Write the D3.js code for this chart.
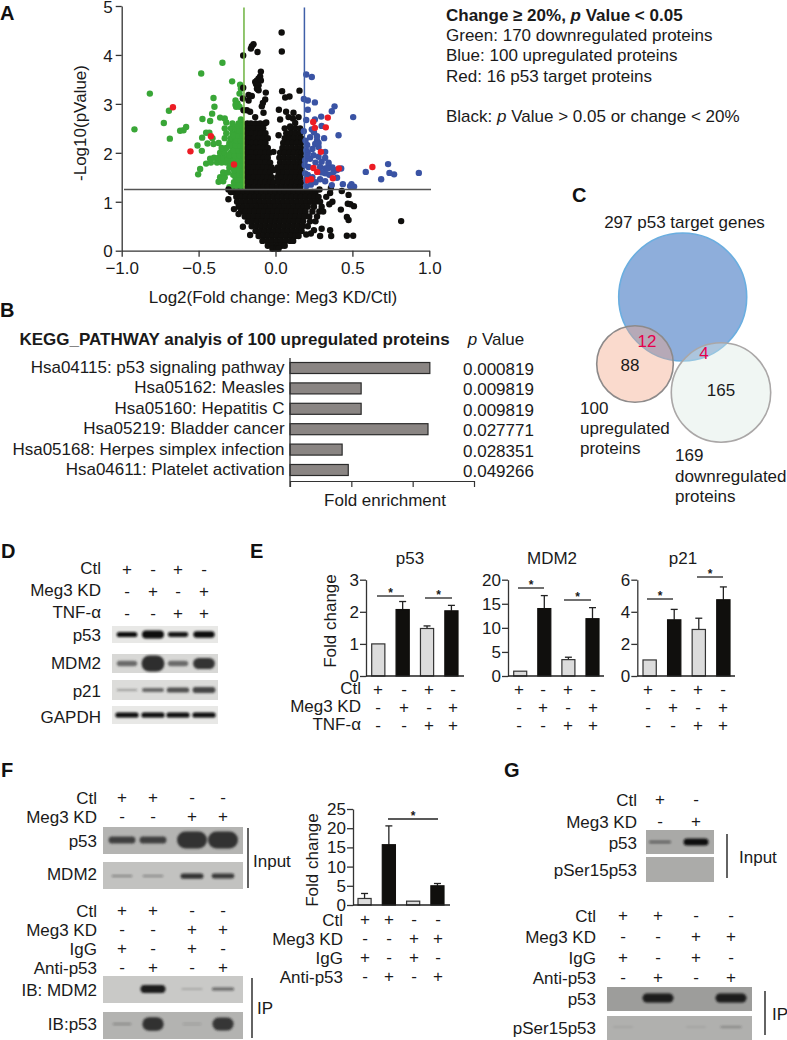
<!DOCTYPE html>
<html><head><meta charset="utf-8">
<script src="https://cdn.jsdelivr.net/npm/d3@7"></script>
<style>html,body{margin:0;padding:0;background:#fff}svg{display:block}text{font-family:"Liberation Sans",Arial,sans-serif;fill:#1a1a1a}</style>
</head><body><script>
// ---------- A: volcano ----------
const redPoints=[[-.667,2.93],[-.42,2.34],[-.553,2.03],[-.27,1.76],[.245,2.63],[.34,2.72],[.256,2.51],[.327,2.52],[.295,2.02],[.247,1.69],[.271,1.61],[.412,1.68],[.63,1.71],[.373,1.48],[.232,1.46],[.204,1.44]];
const greenPoints=[[-.817,3.21],[-.917,2.48],[-.726,2.61],[-.693,2.86],[-.687,2.29],[-.62,2.45],[-.598,2.46],[-.581,2.53],[-.483,3.62],[-.345,3.84],[-.282,3.46],[-.23,3.39],[-.225,3.31],[-.234,3.21],[-.403,3.12],[-.397,2.94],[-.412,2.8],[-.475,2.69],[-.425,2.65],[-.36,2.72],[-.33,2.7],[-.32,2.62],[-.26,3.07],[-.247,3.01],[-.256,2.94],[-.234,2.94],[-.26,2.98],[-.507,2.15],[-.479,2.04],[-.477,2.31],[-.451,2.41],[-.43,2.41],[-.442,2.19],[-.403,2.18],[-.49,1.67],[-.503,1.56],[-.451,1.78],[-.425,1.88],
[-.3,1.3],[-.28,1.3],[-.25,1.3],[-.22,1.3],[-.37,1.41],[-.34,1.42],[-.27,1.4],[-.24,1.4],[-.215,1.4],[-.36,1.5],[-.33,1.5],[-.26,1.5],[-.23,1.5],[-.21,1.5],[-.34,1.6],[-.31,1.6],[-.25,1.6],[-.22,1.6],[-.3,1.7],[-.24,1.7],[-.215,1.7],[-.42,1.8],[-.38,1.8],[-.35,1.8],[-.32,1.8],[-.29,1.8],[-.26,1.8],[-.23,1.8],[-.21,1.8],[-.4,1.9],[-.37,1.9],[-.34,1.9],[-.31,1.9],[-.28,1.9],[-.25,1.9],[-.22,1.9],[-.36,2],[-.33,2],[-.29,2],[-.26,2],[-.23,2],[-.21,2],[-.35,2.1],[-.32,2.1],[-.28,2.1],[-.25,2.1],[-.22,2.1],[-.37,2.2],[-.3,2.2],[-.27,2.2],[-.24,2.2],[-.215,2.2],[-.41,2.3],[-.33,2.3],[-.29,2.3],[-.26,2.3],[-.23,2.3],[-.21,2.3],[-.32,2.4],[-.28,2.4],[-.25,2.4],[-.22,2.4],[-.33,2.5],[-.29,2.5],[-.26,2.5],[-.23,2.5],[-.21,2.5],[-.28,2.6],[-.24,2.6],[-.22,2.6],[-.225,2.68],
[-.235,1.35],[-.215,1.45],[-.245,1.45],[-.275,1.55],[-.235,1.55],[-.215,1.55],[-.27,1.65],[-.235,1.65],[-.215,1.62],[-.26,1.75],[-.23,1.75],[-.31,1.85],[-.27,1.85],[-.24,1.85],[-.215,1.85],[-.3,1.95],[-.265,1.95],[-.235,1.95],[-.21,1.95],[-.27,2.05],[-.24,2.05],[-.215,2.05],[-.3,2.15],[-.26,2.15],[-.23,2.15],[-.21,2.15],[-.25,2.25],[-.225,2.25],[-.27,2.35],[-.24,2.35],[-.215,2.35],[-.235,2.45],[-.21,2.45],[-.245,2.55],[-.215,2.55]];
const bluePoints=[[.2,3.6],[.236,3.55],[.184,3.1],[.21,3.07],[.256,3.03],[.21,2.88],[.384,2.95],[.366,2.85],[.505,2.73],[.297,2.74],[.2,2.67],[.256,2.68],[.236,2.48],[.184,2.44],[.225,2.32],[.316,2.3],[.41,2.36],[.27,2.26],[.258,2.18],[.206,2.16],[.28,2.12],[.2,2.05],[.323,2.02],[.247,1.95],[.28,1.92],[.323,1.9],[.345,1.8],[.345,1.75],[.29,1.71],[.323,1.68],[.427,1.68],[.377,1.61],[.4,1.65],[.732,1.77],[.587,1.61],[.741,1.59],[.771,1.56],[.687,1.46],[.932,1.59],[.438,1.36],[.494,1.36],[.485,1.32],[.511,1.31],[.366,1.34],[.4,1.49],[.323,1.58],[.29,1.46],[.323,1.42],[.193,1.58],[.215,1.71],[.193,1.85],[.225,1.88],[.2,1.45],[.21,1.55],[.24,1.5],[.2,1.32],[.23,1.35],[.26,1.4],[.3,1.6],[.35,1.55],[.37,1.7],[.26,1.8],[.21,2],[.24,2.08],[.195,2.25],[.27,2.34],[.25,2.42],[.3,2.55],[.28,2.2],[.205,1.95],[.19,1.75],[.34,1.68],[.3,1.82]];
const blackRows=[
[2.6,[-.183,-.16,-.13,-.1,-.07]],
[2.5,[-.183,-.17,-.14,-.11,-.08,.06,.1,.13,.16]],
[2.4,[-.183,-.155,-.125,-.095,-.065,.07,.1,.13,.16]],
[2.3,[-.183,-.17,-.14,-.11,-.08,-.05,.06,.09,.12,.15,.167]],
[2.2,[-.183,-.155,-.125,-.095,-.065,.05,.08,.11,.14,.167]],
[2.1,[-.183,-.17,-.14,-.11,-.08,-.05,.045,.075,.105,.135,.165]],
[2,[-.183,-.155,-.125,-.095,-.065,-.04,.03,.06,.09,.12,.15,.167]],
[1.9,[-.183,-.17,-.14,-.11,-.08,-.05,.025,.055,.085,.115,.145,.167]],
[1.8,[-.183,-.155,-.125,-.095,-.065,-.035,.03,.06,.09,.12,.15,.167]],
[1.7,[-.183,-.17,-.14,-.11,-.08,-.05,-.025,.015,.045,.075,.105,.135,.165]],
[1.6,[-.183,-.155,-.125,-.095,-.065,-.035,.02,.05,.08,.11,.14,.167]],
[1.5,[-.183,-.17,-.14,-.11,-.08,-.05,-.025,.012,.04,.07,.1,.13,.16]],
[1.4,[-.183,-.155,-.125,-.095,-.065,-.035,-.012,.02,.05,.08,.11,.14,.167]],
[1.3,[-.183,-.17,-.14,-.11,-.08,-.05,-.02,.012,.04,.07,.1,.13,.16]],
[1.2,[-.27,-.24,-.21,-.18,-.15,-.12,-.09,-.06,-.03,0,.03,.06,.09,.12,.15,.18,.21,.24,.26]],
[1.1,[-.255,-.225,-.195,-.165,-.135,-.105,-.075,-.045,-.015,.015,.045,.075,.105,.135,.165,.195,.225,.255,.28]],
[1,[-.25,-.22,-.19,-.16,-.13,-.1,-.07,-.04,-.01,.02,.05,.08,.11,.14,.17,.2,.23,.26,.29]],
[.9,[-.24,-.21,-.18,-.15,-.12,-.09,-.06,-.03,0,.03,.06,.09,.12,.15,.18,.21,.25,.3]],
[.8,[-.225,-.195,-.165,-.135,-.105,-.075,-.045,-.015,.015,.045,.075,.105,.135,.165,.195,.24,.285]],
[.7,[-.2,-.17,-.14,-.11,-.08,-.05,-.02,.01,.04,.07,.1,.13,.16,.19,.22,.27]],
[.6,[-.18,-.15,-.12,-.09,-.06,-.03,0,.03,.06,.09,.12,.15,.18,.225,.26]],
[.5,[-.155,-.125,-.095,-.065,-.035,-.005,.025,.055,.085,.115,.145,.175,.21]],
[.4,[-.13,-.1,-.07,-.04,-.01,.02,.05,.08,.11,.14,.17]],
[.3,[-.11,-.08,-.05,-.02,.01,.04,.07,.1,.13,.15]],
[.2,[-.085,-.055,-.025,.005,.035,.065,.095,.115]],
[.1,[-.05,-.02,.01,.04,.06]],
[.04,[-.02,.005,.02]]];
const blackOutliers=[[.04,4.46],[.041,4.07],[-.21,3.99],[-.154,4.18],[-.143,4.22],[-.16,4.13],[-.117,4.06],[-.095,3.66],[-.1,3.56],[-.11,3.52],[-.121,3.48],[-.132,3.45],[-.095,3.48],[-.126,3.4],[-.11,3.38],[-.121,3.31],[-.11,3.28],[-.063,3.23],[.043,3.26],[.156,3.27],[.063,3.13],[.091,3.15],[-.067,3.09],[-.082,3.02],[-.089,2.95],[-.21,3.33],[-.212,3.11],[-.208,2.87],[-.175,3.07],[-.154,3.16],[-.175,3.18],[-.132,2.73],[-.078,2.82],[-.186,2.87],[-.165,2.84],[.022,2.88],[.069,2.84],[.117,2.82],[.085,2.73],[.03,2.68],[.113,2.7],[.15,2.73],[.128,2.61],[.095,2.54],[.02,2.36],[-.013,2.02],[-.013,1.65],[-.06,2.62],
[.286,1.25],[.36,1.28],[.355,1.18],[.431,1.22],[.475,1.14],[.47,.96],[.487,.95],[.51,.91],[.425,.84],[.464,.69],[.475,.626],[.464,.306],[.505,.306],[.817,.605],[.355,.42],[.362,.3],[.29,.3],[.3,.45],[.25,.42],[.23,.35],[.2,.33],[.31,.8],[.35,.95],[.37,1],[.33,1.1],[-.306,1.05],[-.212,.49],[-.165,.32],[-.306,1.25],[-.27,.85],[-.24,.75],[-.29,1.2]];
const volcanoXTicks=[-1,-.5,0,.5,1], volcanoYTicks=[0,1,2,3,4,5];
const thresholdP=1.25, thresholdDown=-.205, thresholdUp=.188;
const legendLines=["Green: 170 downregulated proteins","Blue: 100 upregulated proteins","Red: 16 p53 target proteins"];
// ---------- B: KEGG ----------
const keggTerms=["Hsa04115: p53 signaling pathway","Hsa05162: Measles","Hsa05160: Hepatitis C","Hsa05219: Bladder cancer","Hsa05168: Herpes simplex infection","Hsa04611: Platelet activation"];
const keggFold=[2.28,1.16,1.16,2.25,.85,.95];
const keggP=["0.000819","0.009819","0.009819","0.027771","0.028351","0.049266"];
// ---------- C: Venn ----------
const vennSets=["297 p53 target genes","100","upregulated","proteins","169","downregulated","proteins"];
const vennCounts=["12","4","88","165"];
// ---------- D/E/F/G ----------
const laneLabels4=["Ctl","Meg3 KD","TNF-α"];
const signsCtl=["+","-","+","-"], signsKD=["-","+","-","+"], signsTNF=["-","-","+","+"];
const signsCtlF=["+","+","-","-"], signsKDF=["-","-","+","+"], signsIgG=["+","-","+","-"], signsAnti=["-","+","-","+"];
const p53Fold=[1,2.07,1.48,2.03], p53Err=[1,2.32,1.56,2.2];
const mdm2Fold=[1,14,3.4,11.9], mdm2Err=[1,16.7,3.9,14.2];
const p21Fold=[1,3.5,2.9,4.75], p21Err=[1,4.15,3.6,5.55];
const ipFold=[1.7,15.7,1,5], ipErr=[3,20.6,1,5.6];
const blotD={p53:[.65,1,.6,.8],MDM2:[.35,1,.35,.7],p21:[.18,.5,.65,.75],GAPDH:[.85,.85,.85,.85]};
const blotFInput={p53:[.42,.42,1,1],MDM2:[.2,.18,.75,.7]};
const blotFIP={MDM2:[0,1,.05,.38],p53:[.14,.85,.05,.8]};
const blotGInput={p53:[.35,1],pSer:[0,0]};
const blotGIP={p53:[0,1,0,1],pSer:[.02,0,.02,.3]};

const W=787,H=1040,FS=17;
const svg=d3.select("body").append("svg").attr("width",W).attr("height",H).attr("viewBox",`0 0 ${W} ${H}`);
const defs=svg.append("defs");
defs.append("filter").attr("id","blur").attr("x","-30%").attr("y","-80%").attr("width","160%").attr("height","260%").append("feGaussianBlur").attr("stdDeviation",.9);
function txt(x,y,s,o={}){const t=svg.append("text").attr("x",x).attr("y",y).attr("dy",".35em").attr("text-anchor",o.a||"start").attr("font-size",o.s||FS).attr("font-weight",o.w||"normal").text(s);if(o.c)t.style("fill",o.c);if(o.rot)t.attr("transform",`rotate(${o.rot} ${x} ${y})`);return t;}
function panel(x,y,s){txt(x,y,s,{s:20,w:"bold",c:"#111"});}
[[0,13,"A"],[0,310,"B"],[572,195,"C"],[1,551,"D"],[250,551,"E"],[1,770,"F"],[504,770,"G"]].forEach(d=>panel(...d));

// --- A
const vx=d3.scaleLinear().domain([-1,1]).range([121.7,429.3]);
const vy=d3.scaleLinear().domain([0,5]).range([250.7,6]);
const gV=svg.append("g");
const R=3.2;
function dots(data,col){gV.append("g").selectAll("circle").data(data).join("circle").attr("cx",d=>vx(d[0])).attr("cy",d=>vy(d[1])).attr("r",R).attr("fill",col);}
dots(greenPoints,"#39a637");
dots(blackRows.flatMap(([y,xs])=>xs.map(x=>[x,y])).concat(blackOutliers),"#100f0d");
dots(bluePoints,"#3a53a4");
dots(redPoints,"#ec1c24");
function axisStyle(g,fs){g.selectAll("path,line").attr("stroke","#333").attr("stroke-width",1.3);g.selectAll("text").attr("font-size",fs).style("fill","#1a1a1a");}
const xa=svg.append("g").attr("transform",`translate(0,${vy(0)})`).call(d3.axisBottom(vx).tickValues(volcanoXTicks).tickFormat(d3.format(".1f")).tickSize(6).tickSizeOuter(0));
axisStyle(xa,FS);xa.selectAll("text").attr("dy",".85em");
const ya=svg.append("g").attr("transform",`translate(${vx(-1)},0)`).call(d3.axisLeft(vy).tickValues(volcanoYTicks).tickFormat(d3.format("d")).tickSize(6).tickSizeOuter(0));
axisStyle(ya,FS);ya.selectAll("text").attr("dy",".37em");
svg.append("line").attr("x1",vx(thresholdDown)).attr("x2",vx(thresholdDown)).attr("y1",vy(4.97)).attr("y2",vy(thresholdP)).attr("stroke","#6db33f").attr("stroke-width",1.5);
svg.append("line").attr("x1",vx(thresholdUp)).attr("x2",vx(thresholdUp)).attr("y1",vy(4.97)).attr("y2",vy(thresholdP)).attr("stroke","#3f5fa8").attr("stroke-width",1.5);
svg.append("line").attr("x1",vx(-.985)).attr("x2",431).attr("y1",vy(thresholdP)).attr("y2",vy(thresholdP)).attr("stroke","#555").attr("stroke-width",1.4);
txt(80,123,"-Log10(pValue)",{a:"middle",rot:-90});
txt(273,297,"Log2(Fold change: Meg3 KD/Ctl)",{a:"middle"});
const tt=txt(446,15,"Change ≥ 20%, ",{w:"bold"});
tt.append("tspan").attr("font-style","italic").text("p");tt.append("tspan").text(" Value < 0.05");
legendLines.forEach((l,i)=>txt(446,35+i*20.5,l));
const bl=txt(446,116,"Black: ");bl.append("tspan").attr("font-style","italic").text("p");bl.append("tspan").text(" Value > 0.05 or change < 20%");

// --- B
txt(19.5,339,"KEGG_PATHWAY analyis of 100 upregulated proteins",{w:"bold",s:17});
const pv=txt(496,339,"",{a:"middle"});pv.append("tspan").attr("font-style","italic").text("p");pv.append("tspan").text(" Value");
const kx=d3.scaleLinear().domain([0,3]).range([290,474]);
const ky=d3.scaleBand().domain(keggTerms).range([362.5,475.5]).paddingInner(.46).paddingOuter(0);
svg.append("g").selectAll("rect").data(keggTerms).join("rect").attr("x",kx(0)).attr("y",d=>ky(d)).attr("width",(d,i)=>kx(keggFold[i])-kx(0)).attr("height",ky.bandwidth()).attr("fill","#8a8583").attr("stroke","#2b2b2b").attr("stroke-width",1.2);
keggTerms.forEach((t,i)=>{txt(284.6,ky(t)+ky.bandwidth()/2-1,t,{a:"end"});txt(463,ky(t)+ky.bandwidth()/2+1,keggP[i]);});
const kax=svg.append("g").attr("transform","translate(0,481)").call(d3.axisBottom(kx).ticks(3).tickFormat("").tickSize(6).tickSizeOuter(0));
kax.selectAll("path,line").attr("stroke","#333").attr("stroke-width",1.2);
svg.append("line").attr("x1",290).attr("x2",290).attr("y1",358).attr("y2",487).attr("stroke","#333").attr("stroke-width",1.3);
txt(385,500,"Fold enrichment",{a:"middle"});

// --- C
const gC=svg.append("g");
gC.append("circle").attr("cx",682.7).attr("cy",297).attr("r",64).attr("fill","#8eaedb").attr("stroke","#6aaee0").attr("stroke-width",1.6);
gC.append("circle").attr("cx",635).attr("cy",364).attr("r",38.3).attr("fill","rgba(243,163,130,.4)").attr("stroke","#8d8a8a").attr("stroke-width",1.6);
gC.append("circle").attr("cx",721).attr("cy",392.5).attr("r",49.7).attr("fill","rgba(217,232,226,.4)").attr("stroke","#aaa7a7").attr("stroke-width",1.6);
txt(684.5,222,vennSets[0],{a:"middle"});
txt(647,341,vennCounts[0],{a:"middle",c:"#e6004c"});
txt(704,353,vennCounts[1],{a:"middle",c:"#e6004c"});
txt(630,365,vennCounts[2],{a:"middle"});
txt(721,390,vennCounts[3],{a:"middle"});
[408,428.5,448].forEach((y,i)=>txt(580,y,vennSets[1+i]));
[455,476,496].forEach((y,i)=>txt(675,y,vennSets[4+i]));

// --- Blots
function blot(x0,x1,y0,y1,bg,laneXs,vals,o){
  svg.append("rect").attr("x",x0).attr("y",y0).attr("width",x1-x0).attr("height",y1-y0).attr("fill",bg);
  const lane=d3.scaleOrdinal().domain(d3.range(vals.length)).range(laneXs);
  const cy=o.cy||(y0+y1)/2;
  svg.append("g").attr("filter","url(#blur)").selectAll("rect").data(vals).join("rect")
    .attr("x",(d,i)=>lane(i)-o.w*(.82+.18*d)/2).attr("width",d=>o.w*(.82+.18*d))
    .attr("y",d=>cy-Math.max(2,o.h*d)/2).attr("height",d=>Math.max(2,o.h*d))
    .attr("rx",d=>Math.max(1,o.h*d)/2).attr("fill",o.c).attr("opacity",d=>Math.min(1,Math.pow(d,.6)*(o.op||1)));
}
function signs(xs,y,arr){arr.forEach((s,i)=>txt(xs[i],y,s,{a:"middle"}));}

// --- D
const dL=[127,153,178,204];
[[569,signsCtl],[591,signsKD],[613,signsTNF]].forEach((r,i)=>{txt(101,r[0]-1,laneLabels4[i],{a:"end"});signs(dL,r[0],r[1]);});
blot(112,218,626,643,"#e8e8e6",dL,blotD.p53,{w:22,h:8,c:"#0d0d0d",op:1.3});
blot(112,218,654,673,"#d8d8d6",dL,blotD.MDM2,{w:23,h:16,c:"#2e2e2e",op:1.2});
blot(112,218,680,700,"#dcdcda",dL,blotD.p21,{w:24,h:8,c:"#2a2a2a"});
blot(112,218,706,724,"#e8e8e6",dL,blotD.GAPDH,{w:24,h:6,c:"#0d0d0d",op:1.3});
[["p53",635],["MDM2",663],["p21",691],["GAPDH",717]].forEach(d=>txt(101,d[1],d[0],{a:"end"}));

// --- bar charts
function barChart(cfg){
  const y=d3.scaleLinear().domain([0,cfg.max]).range([cfg.y0,cfg.y1]);
  const x=d3.scaleBand().domain(d3.range(4)).range(cfg.xr).paddingInner(.46).paddingOuter(0);
  const g=svg.append("g");
  cfg.vals.forEach((v,i)=>{
    const cx=x(i)+x.bandwidth()/2;
    if(cfg.err[i]>v){g.append("line").attr("x1",cx).attr("x2",cx).attr("y1",y(v)).attr("y2",y(cfg.err[i])).attr("stroke","#222").attr("stroke-width",1.3);
      g.append("line").attr("x1",cx-3.5).attr("x2",cx+3.5).attr("y1",y(cfg.err[i])).attr("y2",y(cfg.err[i])).attr("stroke","#222").attr("stroke-width",1.3);}
  });
  g.selectAll("rect").data(cfg.vals).join("rect").attr("x",(d,i)=>x(i)).attr("width",x.bandwidth()).attr("y",d=>y(d)).attr("height",d=>y(0)-y(d))
    .attr("fill",(d,i)=>cfg.dark[i]?"#100f0d":"#dcdcdc").attr("stroke",(d,i)=>cfg.dark[i]?"#100f0d":"#333").attr("stroke-width",1.2);
  const a=svg.append("g").attr("transform",`translate(${cfg.ax},0)`).call(d3.axisLeft(y).tickValues(cfg.ticks).tickFormat(d3.format("d")).tickSize(6).tickSizeOuter(0));
  axisStyle(a,FS);a.selectAll("text").attr("x",-7);
  svg.append("line").attr("x1",cfg.ax).attr("x2",cfg.xEnd).attr("y1",y(0)).attr("y2",y(0)).attr("stroke","#222").attr("stroke-width",1.4);
  (cfg.sig||[]).forEach(s=>{svg.append("line").attr("x1",s[0]).attr("x2",s[1]).attr("y1",s[2]).attr("y2",s[2]).attr("stroke","#222").attr("stroke-width",1.3);
    txt((s[0]+s[1])/2,s[2]-3.5,"*",{a:"middle",s:12,w:"bold"});});
}
const darkAlt=[0,1,0,1];
barChart({vals:p53Fold,err:p53Err,max:3,ticks:[0,1,2,3],y0:676,y1:579.7,xr:[371.7,458],ax:366,xEnd:464,dark:darkAlt,sig:[[377,404,596],[425,452,598]]});
barChart({vals:mdm2Fold,err:mdm2Err,max:20,ticks:[0,5,10,15,20],y0:676,y1:579.7,xr:[513.7,599],ax:508,xEnd:604,dark:darkAlt,sig:[[518,544,588],[564,591,600]]});
barChart({vals:p21Fold,err:p21Err,max:6,ticks:[0,2,4,6],y0:676,y1:579.7,xr:[643,730],ax:637.3,xEnd:735,dark:darkAlt,sig:[[647,673,599],[697,723,577]]});
txt(410,558,"p53",{a:"middle"});txt(552,558,"MDM2",{a:"middle"});txt(683,558,"p21",{a:"middle"});
txt(330,621,"Fold change",{a:"middle",rot:-90});
[[689,signsCtl],[707,signsKD],[725,signsTNF]].forEach((r,i)=>{
  txt(361,r[0]-.5,laneLabels4[i],{a:"end"});
  signs([378,404,429,453],r[0],r[1]);signs([519,543,568,593],r[0],r[1]);signs([648,673,698,723],r[0],r[1]);
});

// --- F
const fL=[122,153,192,223];
[[797,"Ctl",signsCtlF],[816,"Meg3 KD",signsKDF],[910,"Ctl",signsCtlF],[929,"Meg3 KD",signsKDF],[948,"IgG",signsIgG],[967,"Anti-p53",signsAnti]].forEach(r=>{txt(97,r[0]+1,r[1],{a:"end"});signs(fL,r[0],r[2]);});
blot(103,243,827,854,"#b4b4b2",fL,blotFInput.p53,{w:30,h:17,c:"#333",cy:840,op:1.5});
blot(103,243,862,889,"#c2c2c0",fL,blotFInput.MDM2,{w:24,h:7,c:"#1a1a1a",cy:876});
blot(103,243,976,1003,"#c9c9c7",fL,blotFIP.MDM2,{w:25,h:8,c:"#1a1a1a",cy:989});
blot(103,243,1012,1039,"#b3b3b1",fL,blotFIP.p53,{w:22,h:16,c:"#222",cy:1024});
[["p53",841],["MDM2",874],["IB: MDM2",990],["IB:p53",1024]].forEach(d=>txt(97,d[1],d[0],{a:"end"}));
svg.append("line").attr("x1",248).attr("x2",248).attr("y1",828).attr("y2",888).attr("stroke","#222").attr("stroke-width",1.4);
svg.append("line").attr("x1",252).attr("x2",252).attr("y1",978).attr("y2",1038).attr("stroke","#222").attr("stroke-width",1.4);
txt(253,861,"Input");txt(257,1008,"IP");
barChart({vals:ipFold,err:ipErr,max:25,ticks:[0,5,10,15,20,25],y0:905,y1:809,xr:[358,444],ax:353,xEnd:450,dark:[0,1,0,1],sig:[[388,438,819]]});
txt(312,860,"Fold change",{a:"middle",rot:-90});
[[919,"Ctl",signsCtlF],[938,"Meg3 KD",signsKDF],[957,"IgG",signsIgG],[976,"Anti-p53",signsAnti]].forEach(r=>{txt(343,r[0]+1,r[1],{a:"end"});signs([365,389,414,438],r[0],r[2]);});

// --- G
const gL1=[660,696], gL2=[623,658,696,731];
[[799,"Ctl",signsCtl],[821,"Meg3 KD",signsKD]].forEach(r=>{txt(637,r[0]+1,r[1],{a:"end"});signs(gL1,r[0],r[2].slice(0,2));});
blot(646,714,830,854,"#a9a9a7",gL1,blotGInput.p53,{w:25,h:7,c:"#111",cy:842});
blot(646,714,857,882,"#ababa9",gL1,blotGInput.pSer,{w:20,h:4,c:"#888"});
[["p53",843],["pSer15p53",870]].forEach(d=>txt(637,d[1],d[0],{a:"end"}));
svg.append("line").attr("x1",727).attr("x2",727).attr("y1",834).attr("y2",878).attr("stroke","#222").attr("stroke-width",1.4);
txt(739,857,"Input");
[[915,"Ctl",signsCtlF],[936,"Meg3 KD",signsKDF],[957,"IgG",signsIgG],[977,"Anti-p53",signsAnti]].forEach(r=>{txt(596,r[0]+1,r[1],{a:"end"});signs(gL2,r[0],r[2]);});
blot(607,752,987,1011,"#9d9d9b",gL2,blotGIP.p53,{w:31,h:9,c:"#1b1b1b",cy:998});
blot(607,752,1016,1040,"#b0b0ae",gL2,blotGIP.pSer,{w:24,h:6,c:"#333",cy:1027,op:.7});
[["p53",999],["pSer15p53",1028]].forEach(d=>txt(596,d[1],d[0],{a:"end"}));
svg.append("line").attr("x1",765).attr("x2",765).attr("y1",991).attr("y2",1035).attr("stroke","#222").attr("stroke-width",1.4);
txt(772,1014,"IP");
</script></body></html>
